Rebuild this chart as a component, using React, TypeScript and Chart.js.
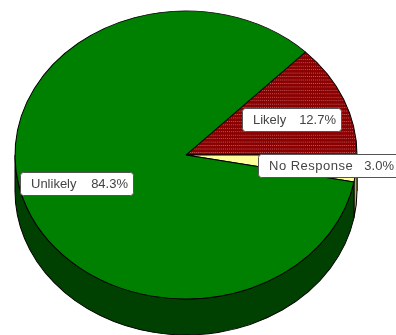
import React, { useEffect, useRef } from "react";
import { Chart, registerables } from "chart.js";

Chart.register(...registerables);

const categories = ["Likely", "No Response", "Unlikely"];
const shares = [12.7, 3.0, 84.3];
const topColors = ["#8b0000", "#ffff99", "#008000"];
const sideColors = ["#500000", "#b0b060", "#004000"];
// How far along the radius each callout sits, plus a small pixel nudge.
const calloutReach = [0.66, 0.84, 0.67];
const calloutNudge = [[1, 1], [0, -1], [0, 0]];
const calloutWidths = [99, 141, 113];

const CENTER_X = 186;
const CENTER_Y = 155;
const RADIUS_X = 171;
const RADIUS_Y = 144;
const DEPTH = 36;

function speckle(ctx: CanvasRenderingContext2D, base: string) {
  const tile = document.createElement("canvas");
  tile.width = 4;
  tile.height = 4;
  const t = tile.getContext("2d")!;
  t.fillStyle = base;
  t.fillRect(0, 0, 4, 4);
  t.fillStyle = "#c06868";
  t.fillRect(0, 0, 1, 1);
  t.fillRect(2, 0, 1, 1);
  return ctx.createPattern(tile, "repeat")!;
}

// Squashes the disc into an ellipse and extrudes its lower rim.
const tiltedDisc = {
  id: "tiltedDisc",
  beforeDatasetsDraw(chart: any) {
    const { ctx } = chart;
    const arcs = chart.getDatasetMeta(0).data;
    const { x, y, outerRadius } = arcs[0];
    const sx = RADIUS_X / outerRadius;
    const sy = RADIUS_Y / outerRadius;
    ctx.save();
    ctx.translate(CENTER_X, CENTER_Y);
    ctx.scale(sx, sy);
    ctx.translate(-x, -y);

    const drop = DEPTH / sy;
    const sweep = (a: number, b: number, color: string) => {
      ctx.beginPath();
      ctx.arc(x, y + drop, outerRadius, a, b);
      ctx.arc(x, y, outerRadius, b, a, true);
      ctx.closePath();
      ctx.fillStyle = color;
      ctx.fill();
      ctx.lineWidth = 1;
      ctx.strokeStyle = "#000000";
      ctx.stroke();
    };
    arcs.forEach((arc: any, i: number) => {
      const twoPi = Math.PI * 2;
      for (const turn of [-twoPi, 0, twoPi]) {
        const a = Math.max(arc.startAngle + turn, 0);
        const b = Math.min(arc.endAngle + turn, Math.PI);
        if (b > a) sweep(a, b, sideColors[i]);
      }
    });
  },
  afterDatasetsDraw(chart: any) {
    chart.ctx.restore();
  },
  afterDraw(chart: any) {
    const { ctx } = chart;
    const arcs = chart.getDatasetMeta(0).data;
    arcs.forEach((arc: any, i: number) => {
      const mid = (arc.startAngle + arc.endAngle) / 2;
      const cx = CENTER_X + RADIUS_X * calloutReach[i] * Math.cos(mid) + calloutNudge[i][0];
      const cy = CENTER_Y + RADIUS_Y * calloutReach[i] * Math.sin(mid) + calloutNudge[i][1];
      const w = calloutWidths[i];
      const h = 23;
      const left = Math.round(cx - w / 2);
      const top = Math.round(cy - h / 2);
      ctx.beginPath();
      ctx.roundRect(left + 0.5, top + 0.5, w, h, 3);
      ctx.fillStyle = "#ffffff";
      ctx.fill();
      ctx.lineWidth = 1;
      ctx.strokeStyle = "#555555";
      ctx.stroke();
      ctx.fillStyle = "#444444";
      ctx.font = '13px "Liberation Sans"';
      ctx.textBaseline = "middle";
      ctx.textAlign = "left";
      ctx.letterSpacing = categories[i].length > 8 ? "0.5px" : "0px";
      ctx.fillText(categories[i], left + 11, top + 12.5);
      ctx.letterSpacing = "0px";
      ctx.textAlign = "right";
      ctx.fillText(`${shares[i].toFixed(1)}%`, left + w - 5, top + 12.5);
    });
  },
};

export default function App() {
  const ref = useRef<HTMLCanvasElement>(null);
  useEffect(() => {
    const canvas = ref.current!;
    const ctx = canvas.getContext("2d")!;
    const chart = new Chart(canvas, {
      type: "pie",
      data: {
        labels: categories,
        datasets: [
          {
            data: shares,
            backgroundColor: [speckle(ctx, topColors[0]), topColors[1], topColors[2]],
            borderColor: "#000000",
            borderWidth: 1,
            borderAlign: "center",
          },
        ],
      },
      options: {
        responsive: false,
        animation: false,
        rotation: 44.3,
        layout: { padding: 0 },
        plugins: { legend: { display: false }, tooltip: { enabled: false } },
      },
      plugins: [tiltedDisc],
    });
    return () => chart.destroy();
  }, []);
  return (
    <canvas
      ref={ref}
      width={396}
      height={335}
      style={{ position: "fixed", left: 0, top: 0, width: 396, height: 335 }}
    />
  );
}
